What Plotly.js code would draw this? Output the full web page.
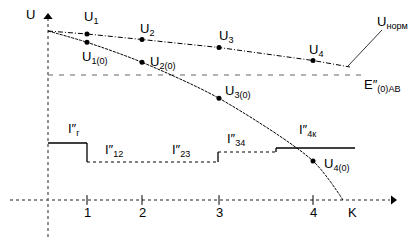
<!DOCTYPE html>
<html>
<head>
<meta charset="utf-8">
<script src="https://cdn.plot.ly/plotly-3.0.1.min.js"></script>
<style>html,body{margin:0;padding:0;background:#fff}#chart{width:420px;height:250px}</style>
</head>
<body>
<div id="chart"></div>
<script>
// Node positions along the line (start, 1, 2, 3, 4) and line end K
var nodeX = [0, 3.9, 9.4, 17.1, 26.5];
var nodeLabels = ['1', '2', '3', '4'];
var endX = 29.5;            // K (end of fault curve)
var normEndX = 30.2;        // end of U_норм line
// Normal-mode voltage U_норм at the nodes and at the line end
var uNorm = [16.9, 16.6, 16.05, 15.25, 13.95];
var uNormEnd = 13.3;
// Fault-mode voltage U(0) at the nodes, 0 at K
var uFault = [16.9, 15.77, 13.77, 10.17, 3.9];
// E''(0)АВ level
var eLevel = 12.5;
var eEndX = 31.6;
// Current I'' step profile: segment boundaries and levels
var stepX = [0, 3.9, 17.0, 22.8, 30.7];
var stepY = [5.7, 3.8, 4.8, 5.2];
var stepLabels = ['I″<sub>г</sub>', 'I″<sub>12</sub>', 'I″<sub>23</sub>', 'I″<sub>34</sub>', 'I″<sub>4к</sub>'];
var uNormLabels = ['U<sub>1</sub>', 'U<sub>2</sub>', 'U<sub>3</sub>', 'U<sub>4</sub>'];
var uFaultLabels = ['U<sub>1(0)</sub>', 'U<sub>2(0)</sub>', 'U<sub>3(0)</sub>', 'U<sub>4(0)</sub>'];

var FONT = 'Liberation Sans, Arial, sans-serif';
var traces = [];

// axes
traces.push({x: [-3.8, 34.2], y: [0, 0], mode: 'lines', line: {color: '#222', width: 1, dash: 'dot'}, hoverinfo: 'skip'});
traces.push({x: [0, 0], y: [-3.7, 18.2], mode: 'lines', line: {color: '#777', width: 1.6, dash: 'dot'}, hoverinfo: 'skip'});
traces.push({x: [34.5], y: [0], mode: 'markers', marker: {symbol: 'triangle-right', size: 8, color: '#000'}, hoverinfo: 'skip'});
traces.push({x: [0], y: [18.3], mode: 'markers', marker: {symbol: 'triangle-up', size: 8, color: '#000'}, hoverinfo: 'skip'});
traces.push({x: nodeX.slice(1), y: nodeX.slice(1).map(function(){return 0;}), mode: 'markers',
  marker: {symbol: 'line-ns', size: 7, line: {color: '#000', width: 1}}, hoverinfo: 'skip'});

// E''(0)АВ dashed level
traces.push({x: [0, eEndX], y: [eLevel, eLevel], mode: 'lines', line: {color: '#666', width: 1, dash: '5px,6px'}, hoverinfo: 'skip'});

// U_норм line
traces.push({x: nodeX.concat([normEndX]), y: uNorm.concat([uNormEnd]), mode: 'lines',
  line: {color: '#000', width: 1, dash: '5px,2px,1px,2px'}, hoverinfo: 'skip'});
traces.push({x: nodeX.slice(1), y: uNorm.slice(1), mode: 'markers', marker: {color: '#000', size: 5}, hoverinfo: 'skip'});

// U(0) fault curve
traces.push({x: nodeX.concat([endX]), y: uFault.concat([0]), mode: 'lines',
  line: {color: '#000', width: 1, dash: '3px,1px', shape: 'spline', smoothing: 0.8}, hoverinfo: 'skip'});
traces.push({x: nodeX.slice(1), y: uFault.slice(1), mode: 'markers', marker: {color: '#000', size: 5}, hoverinfo: 'skip'});

// current step line
for (var i = 0; i < stepY.length; i++) {
  var solid = (i === 0 || i === stepY.length - 1);
  traces.push({x: [stepX[i], stepX[i + 1]], y: [stepY[i], stepY[i]], mode: 'lines',
    line: {color: '#000', width: solid ? 1.3 : 1, dash: solid ? 'solid' : 'dot'}, hoverinfo: 'skip'});
  if (i > 0) {
    traces.push({x: [stepX[i], stepX[i]], y: [stepY[i - 1], stepY[i]], mode: 'lines',
      line: {color: '#000', width: 1.3}, hoverinfo: 'skip'});
  }
}

// leader line for U_норм label
traces.push({x: [normEndX - 0.2, 33.4], y: [uNormEnd + 0.1, 17.0], mode: 'lines', line: {color: '#000', width: 0.8}, hoverinfo: 'skip'});

var ann = [];
function txt(t, x, y, xa) {
  ann.push({text: t, x: x, y: y, xref: 'x', yref: 'y', showarrow: false, xanchor: xa || 'left', yanchor: 'middle',
    font: {family: FONT, size: 13, color: '#000'}});
}
// axis labels
txt('U', -2.4, 18.6);
for (var k = 0; k < nodeLabels.length; k++) txt(nodeLabels[k], nodeX[k + 1], -1.2, 'center');
txt('K', endX + 0.9, -1.2, 'center');
// U labels (offsets from the marks)
var uNormOff = [[-0.5, 1.7], [-0.4, 1.0], [-0.2, 1.1], [-0.6, 1.0]];
for (k = 0; k < 4; k++) txt(uNormLabels[k], nodeX[k + 1] + uNormOff[k][0], uNorm[k + 1] + uNormOff[k][1]);
var uFaultOff = [[-0.7, -1.5], [0.6, 0.0], [0.4, 0.7], [0.9, -0.3]];
for (k = 0; k < 4; k++) txt(uFaultLabels[k], nodeX[k + 1] + uFaultOff[k][0], uFault[k + 1] + uFaultOff[k][1]);
txt('U<sub>норм</sub>', 32.7, 17.8);
txt('E″<sub>(0)АВ</sub>', 31.4, eLevel - 1.0);
// current labels
var stepLabX = [1.8, 5.5, 12.2, 17.7, 24.9];
var stepLabY = [7.1, 5.0, 5.0, 6.1, 7.0];
for (k = 0; k < stepLabels.length; k++) txt(stepLabels[k], stepLabX[k], stepLabY[k]);

var layout = {
  width: 420, height: 250, margin: {l: 0, r: 0, t: 0, b: 0},
  paper_bgcolor: '#fff', plot_bgcolor: '#fff', showlegend: false,
  xaxis: {range: [-4.8, 37.2], visible: false, fixedrange: true},
  yaxis: {range: [-5, 20], visible: false, fixedrange: true},
  annotations: ann
};
Plotly.newPlot('chart', traces, layout, {staticPlot: true, displayModeBar: false});
</script>
</body>
</html>
